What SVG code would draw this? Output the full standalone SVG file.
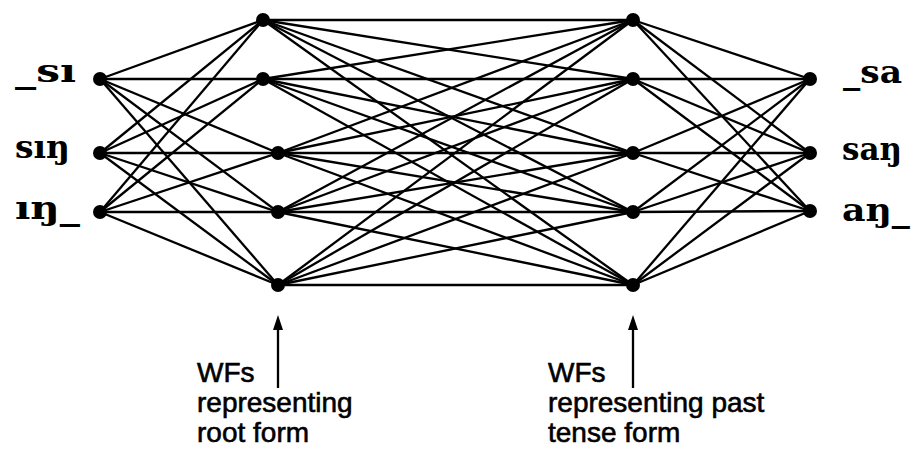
<svg xmlns="http://www.w3.org/2000/svg" width="911" height="455" viewBox="0 0 911 455">
<style>
.c line{stroke:#000;stroke-width:2.3;}
.n{fill:#000;}
.lab{font-family:"DejaVu Serif","Liberation Serif",serif;font-weight:bold;font-size:32px;fill:#000;}
.cap{font-family:"Liberation Sans",Arial,sans-serif;font-size:28px;fill:#000;stroke:#000;stroke-width:0.6;}
.ah{fill:#000;}
</style>
<g class="c" id="connectors">
<line x1="100" y1="79" x2="263" y2="20"/><line x1="100" y1="79" x2="263" y2="79"/><line x1="100" y1="79" x2="278" y2="153"/><line x1="100" y1="79" x2="278" y2="212"/><line x1="100" y1="79" x2="278" y2="285"/>
<line x1="100" y1="153" x2="263" y2="20"/><line x1="100" y1="153" x2="263" y2="79"/><line x1="100" y1="153" x2="278" y2="153"/><line x1="100" y1="153" x2="278" y2="212"/><line x1="100" y1="153" x2="278" y2="285"/>
<line x1="100" y1="212" x2="263" y2="20"/><line x1="100" y1="212" x2="263" y2="79"/><line x1="100" y1="212" x2="278" y2="153"/><line x1="100" y1="212" x2="278" y2="212"/><line x1="100" y1="212" x2="278" y2="285"/>
<line x1="263" y1="20" x2="633" y2="20"/><line x1="263" y1="20" x2="633" y2="79"/><line x1="263" y1="20" x2="633" y2="153"/><line x1="263" y1="20" x2="633" y2="212"/><line x1="263" y1="20" x2="633" y2="285"/>
<line x1="263" y1="79" x2="633" y2="20"/><line x1="263" y1="79" x2="633" y2="79"/><line x1="263" y1="79" x2="633" y2="153"/><line x1="263" y1="79" x2="633" y2="212"/><line x1="263" y1="79" x2="633" y2="285"/>
<line x1="278" y1="153" x2="633" y2="20"/><line x1="278" y1="153" x2="633" y2="79"/><line x1="278" y1="153" x2="633" y2="153"/><line x1="278" y1="153" x2="633" y2="212"/><line x1="278" y1="153" x2="633" y2="285"/>
<line x1="278" y1="212" x2="633" y2="20"/><line x1="278" y1="212" x2="633" y2="79"/><line x1="278" y1="212" x2="633" y2="153"/><line x1="278" y1="212" x2="633" y2="212"/><line x1="278" y1="212" x2="633" y2="285"/>
<line x1="278" y1="285" x2="633" y2="20"/><line x1="278" y1="285" x2="633" y2="79"/><line x1="278" y1="285" x2="633" y2="153"/><line x1="278" y1="285" x2="633" y2="212"/><line x1="278" y1="285" x2="633" y2="285"/>
<line x1="633" y1="20" x2="810" y2="79"/><line x1="633" y1="20" x2="810" y2="153"/><line x1="633" y1="20" x2="810" y2="211"/>
<line x1="633" y1="79" x2="810" y2="79"/><line x1="633" y1="79" x2="810" y2="153"/><line x1="633" y1="79" x2="810" y2="211"/>
<line x1="633" y1="153" x2="810" y2="79"/><line x1="633" y1="153" x2="810" y2="153"/><line x1="633" y1="153" x2="810" y2="211"/>
<line x1="633" y1="212" x2="810" y2="79"/><line x1="633" y1="212" x2="810" y2="153"/><line x1="633" y1="212" x2="810" y2="211"/>
<line x1="633" y1="285" x2="810" y2="79"/><line x1="633" y1="285" x2="810" y2="153"/><line x1="633" y1="285" x2="810" y2="211"/>
<line x1="278" y1="388" x2="278" y2="328"/>
<polygon class="ah" points="278,315 273,330 283,330"/>
<line x1="633" y1="388" x2="633" y2="328"/>
<polygon class="ah" points="633,315 628,330 638,330"/>
</g>
<g id="in1"><circle class="n" cx="100" cy="79" r="7"/><text class="lab" x="15" y="82" textLength="61" lengthAdjust="spacingAndGlyphs">_sı</text></g>
<g id="in2"><circle class="n" cx="100" cy="153" r="7"/><text class="lab" x="15" y="158" textLength="55" lengthAdjust="spacingAndGlyphs">sıŋ</text></g>
<g id="in3"><circle class="n" cx="100" cy="212" r="7"/><text class="lab" x="15" y="219" textLength="65" lengthAdjust="spacingAndGlyphs">ıŋ_</text></g>
<g id="h1a"><circle class="n" cx="263" cy="20" r="7"/></g>
<g id="h1b"><circle class="n" cx="263" cy="79" r="7"/></g>
<g id="h1c"><circle class="n" cx="278" cy="153" r="7"/></g>
<g id="h1d"><circle class="n" cx="278" cy="212" r="7"/></g>
<g id="h1e"><circle class="n" cx="278" cy="285" r="7"/></g>
<g id="h2a"><circle class="n" cx="633" cy="20" r="7"/></g>
<g id="h2b"><circle class="n" cx="633" cy="79" r="7"/></g>
<g id="h2c"><circle class="n" cx="633" cy="153" r="7"/></g>
<g id="h2d"><circle class="n" cx="633" cy="212" r="7"/></g>
<g id="h2e"><circle class="n" cx="633" cy="285" r="7"/></g>
<g id="out1"><circle class="n" cx="810" cy="79" r="7"/><text class="lab" x="843" y="83" textLength="59" lengthAdjust="spacingAndGlyphs">_sa</text></g>
<g id="out2"><circle class="n" cx="810" cy="153" r="7"/><text class="lab" x="842" y="160" textLength="60" lengthAdjust="spacingAndGlyphs">saŋ</text></g>
<g id="out3"><circle class="n" cx="810" cy="211" r="7"/><text class="lab" x="842" y="221" textLength="68" lengthAdjust="spacingAndGlyphs">aŋ_</text></g>
<g id="cap1"><text class="cap" x="197" y="382">WFs</text><text class="cap" x="197" y="412">representing</text><text class="cap" x="197" y="442">root form</text></g>
<g id="cap2"><text class="cap" x="548" y="382">WFs</text><text class="cap" x="548" y="412">representing past</text><text class="cap" x="548" y="442">tense form</text></g>
</svg>
